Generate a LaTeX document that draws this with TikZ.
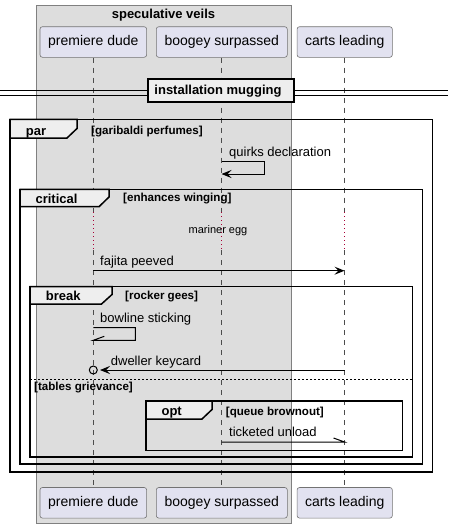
\documentclass[tikz,border=0pt]{standalone}
\usepackage{fontspec}
\setmainfont{Liberation Sans}
\usetikzlibrary{arrows.meta}
\definecolor{partfill}{HTML}{E2E2F0}
\definecolor{boxfill}{HTML}{DDDDDD}
\definecolor{tabfill}{HTML}{EEEEEE}
\definecolor{delayred}{HTML}{A80036}
\begin{document}
\begin{tikzpicture}[x=1pt,y=-1pt,
 part/.style={draw=black!55, line width=0.6pt, fill=partfill, rounded corners=2.5pt, minimum height=30.6pt, inner sep=0pt, font=\fontsize{14}{16}\selectfont},
 life/.style={black!70, line width=0.5pt, dash pattern=on 5pt off 5pt},
 delayline/.style={delayred, line width=0.6pt, dash pattern=on 1pt off 3pt},
 msg/.style={line width=1pt, -{Stealth[length=10pt,width=8pt,inset=4pt]}},
 plainmsg/.style={line width=1pt},
 msgtext/.style={anchor=base west, inner sep=0pt, font=\fontsize{13}{15}\selectfont},
 frameline/.style={draw, line width=1.5pt},
 tabshape/.style={draw, line width=1.5pt, fill=tabfill},
 tablabel/.style={anchor=base, inner sep=0pt, font=\bfseries\fontsize{13}{15}\selectfont},
 guard/.style={anchor=base west, inner sep=0pt, font=\bfseries\fontsize{11.6}{13}\selectfont},
]
\useasboundingbox (0,0) rectangle (448,528);
\fill[white] (0,0) rectangle (448,528);

% box speculative veils
\draw[fill=boxfill, draw=black!50, line width=0.5pt] (36,5.5) rectangle (291.5,523);
\node[anchor=base, inner sep=0pt, font=\bfseries\fontsize{13}{15}\selectfont] (boxtitle) at (163.5,18.3) {speculative veils};

% participants
\node[part, minimum width=106.7pt] (pd) at (93.3,42) {premiere dude};
\node[part, minimum width=131pt] (bs) at (221.8,42) {boogey surpassed};
\node[part, minimum width=95.3pt] (cl) at (344.7,42) {carts leading};
\node[part, minimum width=106.7pt] (pdb) at (93.3,502.8) {premiere dude};
\node[part, minimum width=131pt] (bsb) at (221.8,502.8) {boogey surpassed};
\node[part, minimum width=95.3pt] (clb) at (344.7,502.8) {carts leading};

% delay coordinates
\coordinate (pd1) at (93.3,212); \coordinate (pd2) at (93.3,250);
\coordinate (bs1) at (221.5,212); \coordinate (bs2) at (221.5,250);
\coordinate (cl1) at (344.5,212); \coordinate (cl2) at (344.5,250);

% lifelines
\draw[life] (pd.south) -- (pd1);
\draw[life] (pd2) -- (pdb.north);
\draw[life] (bs.south -| bs1) -- (bs1);
\draw[life] (bs2) -- (bsb.north -| bs2);
\draw[life] (cl.south -| cl1) -- (cl1);
\draw[life] (cl2) -- (clb.north -| cl2);
\draw[delayline] (pd1) -- (pd2);
\draw[delayline] (bs1) -- (bs2);
\draw[delayline] (cl1) -- (cl2);
\node[anchor=base, inner sep=0pt, font=\fontsize{11}{13}\selectfont] (delaytext) at (218,233) {mariner egg};

% divider
\draw[line width=0.9pt] (0,90.7) -- (448,90.7);
\draw[line width=0.9pt] (0,95) -- (448,95);
\draw[fill=tabfill, line width=1.8pt] (148,79) rectangle (294,102);
\node[anchor=base, inner sep=0pt, font=\bfseries\fontsize{13}{15}\selectfont] (divtext) at (218,94.5) {installation mugging};

% par frame
\draw[frameline] (10,119.3) rectangle (432.7,472);
\draw[tabshape] (10,119.3) -- (77,119.3) -- (77,128.5) -- (67,138) -- (10,138) -- cycle;
\node[tablabel] (parlabel) at (36,135) {par};
\node[guard] (parguard) at (91,134.3) {[garibaldi perfumes]};

% critical frame
\draw[frameline] (20,189.3) rectangle (422.7,464);
\draw[tabshape] (20,189.3) -- (109,189.3) -- (109,197) -- (99,206.7) -- (20,206.7) -- cycle;
\node[tablabel] (critlabel) at (56.5,203.5) {critical};
\node[guard] (critguard) at (123,201.7) {[enhances winging]};

% break frame
\draw[frameline] (30,286.7) rectangle (412.3,457);
\draw[tabshape] (30,286.7) -- (112,286.7) -- (112,294.5) -- (101.5,304) -- (30,304) -- cycle;
\node[tablabel] (breaklabel) at (63.3,300.5) {break};
\node[guard] (breakguard) at (125,299) {[rocker gees]};
\draw[line width=0.7pt, dash pattern=on 2pt off 2pt] (30,379) -- (412.3,379);
\node[guard] (elseguard) at (34,390.5) {[tables grievance]};

% opt frame
\draw[frameline] (146,401) rectangle (402.7,450.3);
\draw[tabshape] (146,401) -- (212,401) -- (212,409.5) -- (202,419) -- (146,419) -- cycle;
\node[tablabel] (optlabel) at (171.7,415.5) {opt};
\node[guard] (optguard) at (225.7,415) {[queue brownout]};

% quirks declaration
\coordinate (qa) at (221.5,161.3);
\coordinate (qb) at (221.5,174);
\draw[msg] (qa) -- ++(42.5,0) |- (qb);
\node[msgtext] (qtext) at (229,156) {quirks declaration};

% fajita peeved
\coordinate (fa) at (93.3,270.7);
\coordinate (fb) at (344.5,270.7);
\draw[msg] (fa) -- (fb);
\node[msgtext] (ftext) at (100,265.5) {fajita peeved};

% bowline sticking
\coordinate (ba) at (93.3,327.7);
\coordinate (bb) at (93.3,340.3);
\draw[plainmsg] (ba) -- ++(42,0) |- (bb) -- ++(11,-4);
\node[msgtext] (btext) at (100,322.5) {bowline sticking};

% dweller keycard
\coordinate (da) at (344.5,370);
\coordinate (dt) at (100,370);
\coordinate (dc) at (93.3,370);
\draw[msg] (da) -- (dt);
\draw[line width=1pt] (dc) circle (4);
\node[msgtext] (dtext) at (110.7,365) {dweller keycard};

% ticketed unload
\coordinate (ta) at (221.5,442);
\coordinate (tb) at (344.5,442);
\draw[plainmsg] (ta) -- (tb) -- ++(-11,-4);
\node[msgtext] (ttext) at (229,436.5) {ticketed unload};
\end{tikzpicture}
\end{document}
